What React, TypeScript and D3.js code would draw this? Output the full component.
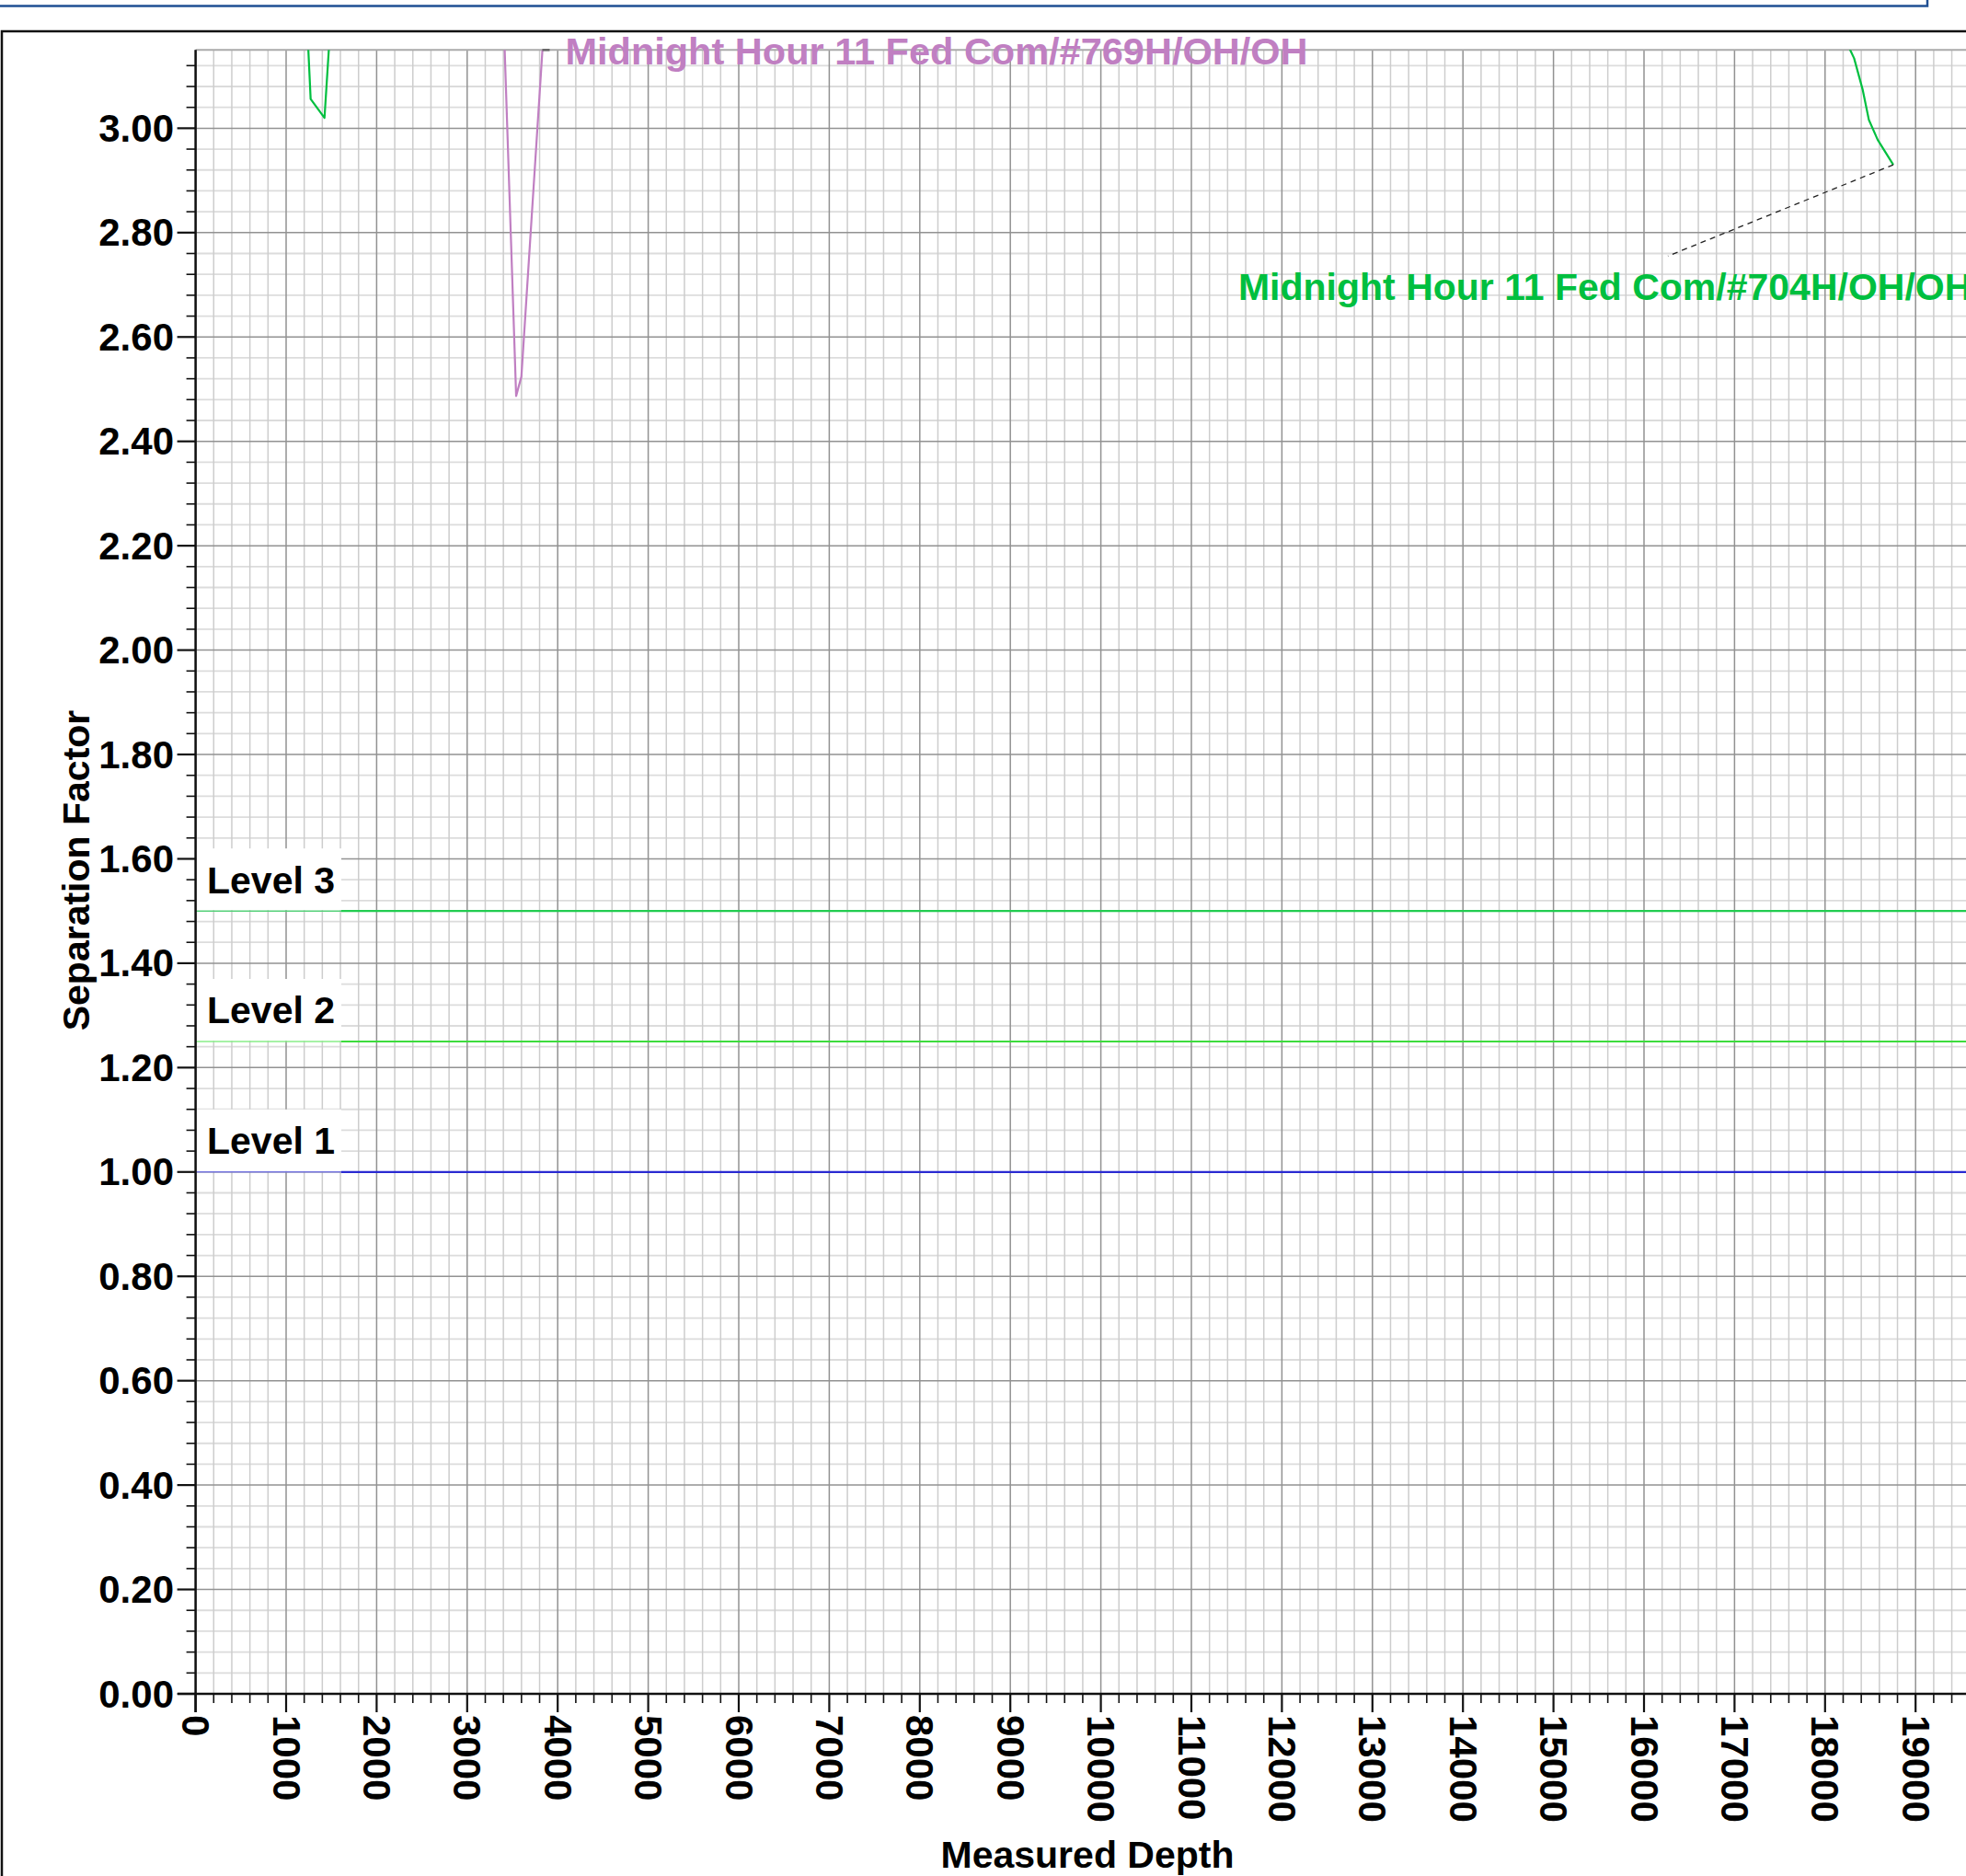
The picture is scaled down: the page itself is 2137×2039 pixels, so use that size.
import React from 'react';
import * as d3 from 'd3';

// separation factor vs measured depth (two offset wells + alert levels)
const well704Name = 'Midnight Hour 11 Fed Com/#704H/OH/OH';
const well704ShallowMD = [1232, 1271, 1424, 1490];
const well704ShallowSF = [3.2, 3.056, 3.02, 3.2];
const well704DeepMD = [18250, 18321, 18414, 18484, 18581, 18754];
const well704DeepSF = [3.16, 3.134, 3.075, 3.016, 2.978, 2.93];

const well769Name = 'Midnight Hour 11 Fed Com/#769H/OH/OH';
const well769MD = [3405, 3541, 3599, 3850];
const well769SF = [3.2, 2.487, 2.524, 3.2];

const levelNames = ['Level 1', 'Level 2', 'Level 3'];
const levelValues = [1.0, 1.25, 1.5];
const levelColors = ['#2a2ad2', '#3ddc3d', '#22cc50'];
const levelLightColors = ['#7777e0', '#88ee88', '#55d078'];

const xTickValues = d3.range(0, 19001, 1000);
const yTickValues = d3.range(0, 3.01, 0.2);

const W = 2137;
const H = 2039;
const margin = { left: 212.6, top: 54.3, bottom: 1841 };
const font = '"Liberation Sans", Arial, sans-serif';

export default function App() {
  const x = d3.scaleLinear().domain([0, 20000]).range([margin.left, margin.left + 1968]);
  const y = d3.scaleLinear().domain([0, 3.15]).range([margin.bottom, margin.top]);
  const right = x(20000);

  const line = d3.line<[number, number]>()
    .x(d => x(d[0]))
    .y(d => y(d[1]));

  const zip = (a: number[], b: number[]) => a.map((v, i) => [v, b[i]] as [number, number]);

  const vGrid = d3.range(0, 101).map(i => ({ v: i * 200, major: i % 5 === 0 }));
  const hGrid = d3.range(0, 79).map(i => ({ v: i * 0.04, major: i % 5 === 0 }));

  // leader for #704H label
  const leadEnd: [number, number] = [16264, 2.755];
  const leadStart: [number, number] = [well704DeepMD[well704DeepMD.length - 1], well704DeepSF[well704DeepSF.length - 1]];

  return (
    <svg width={W} height={H} style={{ position: 'absolute', left: 0, top: 0, background: '#fff' }}
      fontFamily={font}>
      <defs>
        <clipPath id="plotClip">
          <rect x={margin.left} y={margin.top} width={right - margin.left} height={margin.bottom - margin.top} />
        </clipPath>
      </defs>

      {/* outer boxes */}
      <rect x={-10} y={-10} width={2105} height={16.5} fill="none" stroke="#1f4f93" strokeWidth={2.5} />
      <rect x={2} y={34} width={2200} height={2100} fill="none" stroke="#111" strokeWidth={2.5} />

      {/* grid */}
      <g>
        {hGrid.filter(d => !d.major).map(d => (
          <line key={'h' + d.v} x1={margin.left} x2={right} y1={y(d.v)} y2={y(d.v)}
            stroke="#dcdcdc" strokeWidth={1.8} />
        ))}
        {vGrid.filter(d => !d.major).map(d => (
          <line key={'v' + d.v} x1={x(d.v)} x2={x(d.v)} y1={margin.top} y2={margin.bottom}
            stroke="#cdcdcd" strokeWidth={1.5} />
        ))}
        {hGrid.filter(d => d.major).map(d => (
          <line key={'hm' + d.v} x1={margin.left} x2={right} y1={y(d.v)} y2={y(d.v)}
            stroke="#929292" strokeWidth={1.5} />
        ))}
        {vGrid.filter(d => d.major).map(d => (
          <line key={'vm' + d.v} x1={x(d.v)} x2={x(d.v)} y1={margin.top} y2={margin.bottom}
            stroke="#929292" strokeWidth={1.5} />
        ))}
        <line x1={margin.left} x2={right} y1={margin.top} y2={margin.top} stroke="#aaa" strokeWidth={2} />
      </g>

      {/* levels */}
      {levelValues.map((v, i) => (
        <g key={levelNames[i]}>
          <rect x={margin.left + 1} y={y(v) - 68} width={371 - margin.left - 1} height={67} fill="#fff" />
          <line x1={margin.left} x2={371} y1={y(v)} y2={y(v)} stroke={levelLightColors[i]} strokeWidth={1.5} />
          <line x1={371} x2={right} y1={y(v)} y2={y(v)} stroke={levelColors[i]} strokeWidth={2.2} />
          <text x={225} y={y(v) - 19.5} fontSize={41} fontWeight="bold" fill="#000">{levelNames[i]}</text>
        </g>
      ))}

      {/* wells */}
      <g clipPath="url(#plotClip)" fill="none" strokeLinejoin="round">
        <path d={line(zip(well704ShallowMD, well704ShallowSF)) || ''} stroke="#00bf3f" strokeWidth={2.2} />
        <path d={line(zip(well704DeepMD, well704DeepSF)) || ''} stroke="#00bf3f" strokeWidth={2.2} />
        <path d={line(zip(well769MD, well769SF)) || ''} stroke="#c07fc2" strokeWidth={2.2} />
      </g>

      {/* labels */}
      <line x1={x(leadStart[0])} y1={y(leadStart[1])} x2={x(leadEnd[0])} y2={y(leadEnd[1])}
        stroke="#222" strokeWidth={1.3} strokeDasharray="6,5" />
      <text x={x(leadEnd[0]) - 467} y={y(leadEnd[1]) + 48} fontSize={41} fontWeight="bold" fill="#00bf3f">
        {well704Name}
      </text>
      <line x1={x(well769MD[3]) - 2} x2={x(well769MD[3]) + 6} y1={margin.top} y2={margin.top}
        stroke="#666" strokeWidth={2.5} />
      <text x={x(well769MD[3]) + 23} y={margin.top + 16} fontSize={41.5} fontWeight="bold" fill="#c07fc2">
        {well769Name}
      </text>

      {/* axes */}
      <g stroke="#111">
        <line x1={margin.left} x2={margin.left} y1={margin.top} y2={margin.bottom + 20} strokeWidth={2.5} />
        <line x1={193} x2={right} y1={margin.bottom} y2={margin.bottom} strokeWidth={2.5} />
        {hGrid.map(d => (
          <line key={'yt' + d.v} x1={margin.left - (d.major ? 20 : 10)} x2={margin.left}
            y1={y(d.v)} y2={y(d.v)} strokeWidth={d.major ? 2.2 : 1.6} />
        ))}
        {vGrid.map(d => (
          <line key={'xt' + d.v} x1={x(d.v)} x2={x(d.v)} y1={margin.bottom}
            y2={margin.bottom + (d.major ? 20 : 10)} strokeWidth={d.major ? 2.2 : 1.6} />
        ))}
      </g>
      {yTickValues.map(v => (
        <text key={'yl' + v} x={189} y={y(v)} textAnchor="end" dominantBaseline="central"
          fontSize={42} fontWeight="bold" fill="#000">{d3.format('.2f')(v)}</text>
      ))}
      {xTickValues.map(v => (
        <text key={'xl' + v} transform={`translate(${x(v)},${margin.bottom + 23}) rotate(90)`}
          dominantBaseline="central" fontSize={42} fontWeight="bold" fill="#000">{v}</text>
      ))}

      <text x={1182} y={2030} textAnchor="middle" fontSize={41} fontWeight="bold" fill="#000">Measured Depth</text>
      <text transform="translate(97,946) rotate(-90)" textAnchor="middle" fontSize={41} fontWeight="bold"
        fill="#000">Separation Factor</text>
    </svg>
  );
}
